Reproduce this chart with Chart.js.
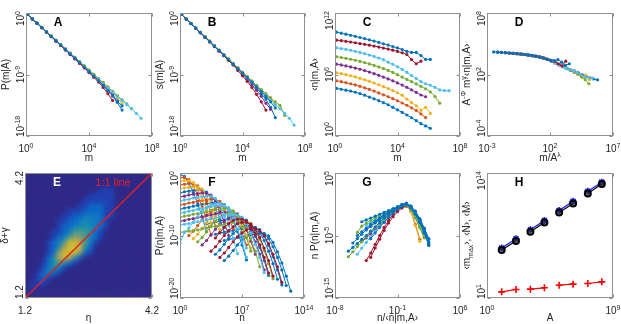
<!DOCTYPE html>
<html><head><meta charset="utf-8">
<script src="https://cdn.jsdelivr.net/npm/chart.js@4.4.1/dist/chart.umd.min.js"></script>
<style>
html,body{margin:0;padding:0;background:#fff;overflow:hidden;width:621px;height:324px;position:relative}
canvas{position:absolute}
</style>
</head><body>
<canvas id="cA"></canvas><canvas id="cB"></canvas><canvas id="cC"></canvas><canvas id="cD"></canvas>
<canvas id="cE"></canvas><canvas id="cF"></canvas><canvas id="cG"></canvas><canvas id="cH"></canvas>
<script>
// ---------------- DATA (log10 values) ----------------
const seriesColors = ['rgb(0,114,189)','rgb(217,83,25)','rgb(237,177,32)','rgb(126,47,142)','rgb(119,172,48)','rgb(77,190,238)','rgb(162,20,47)','rgb(0,114,189)'];
const logM = [0.1,0.4,0.7,1.0,1.3,1.6,1.9,2.2,2.5,2.8,3.1,3.4,3.7,4.0,4.3,4.6,4.9,5.2,5.5,5.8,6.1,6.4,6.7,7.0,7.3];

// Panel A: log10 P(m|A)
const logP_A = [
 [-0.2,-0.86,-1.5,-2.14,-2.78,-3.42,-4.06,-4.7,-5.35,-6.0,-6.63,-7.28,-7.92,-8.57,-9.23,-9.9,-10.6,-11.3,-12.1,-13.1,-14.2],
 [-0.2,-0.84,-1.47,-2.1,-2.74,-3.37,-4.0,-4.62,-5.25,-5.88,-6.5,-7.12,-7.74,-8.36,-8.98,-9.6,-10.2,-10.85,-11.5,-12.2],
 [-0.21,-0.85,-1.48,-2.11,-2.75,-3.38,-4.01,-4.64,-5.27,-5.9,-6.53,-7.16,-7.78,-8.4,-9.02,-9.65,-10.3,-10.95,-11.6,-12.4,-13.3],
 [-0.22,-0.86,-1.5,-2.14,-2.78,-3.42,-4.06,-4.7,-5.34,-5.98,-6.62,-7.26,-7.9,-8.55,-9.2,-9.86,-10.55,-11.25,-12.0,-12.9],
 [-0.2,-0.84,-1.47,-2.1,-2.73,-3.36,-3.99,-4.62,-5.25,-5.88,-6.5,-7.12,-7.74,-8.36,-8.98,-9.6,-10.22,-10.84,-11.46,-12.08,-12.7,-13.3,-14.0],
 [-0.21,-0.85,-1.48,-2.12,-2.76,-3.39,-4.03,-4.66,-5.3,-5.94,-6.57,-7.21,-7.84,-8.48,-9.12,-9.75,-10.38,-11.0,-11.6,-12.2,-12.8,-13.4,-14.0,-14.7,-15.4],
 [-0.22,-0.87,-1.52,-2.17,-2.82,-3.47,-4.12,-4.77,-5.42,-6.07,-6.72,-7.38,-8.05,-8.72,-9.4,-10.1,-10.9,-11.8,-12.8],
 [-0.21,-0.85,-1.49,-2.13,-2.77,-3.41,-4.05,-4.69,-5.33,-5.97,-6.61,-7.26,-7.91,-8.56,-9.22,-9.9,-10.6,-11.35,-12.15,-12.9,-13.6]
];
// Panel B: log10 s(m|A)
const logS_B = [
 [-0.22,-0.88,-1.54,-2.2,-2.86,-3.52,-4.18,-4.84,-5.5,-6.16,-6.82,-7.48,-8.14,-8.8,-9.5,-10.2,-11.0,-11.8,-12.6,-13.8,-15.3],
 [-0.22,-0.87,-1.52,-2.17,-2.82,-3.47,-4.12,-4.77,-5.42,-6.07,-6.72,-7.37,-8.02,-8.67,-9.32,-9.97,-10.62,-11.3,-12.0,-12.8],
 [-0.22,-0.87,-1.52,-2.17,-2.82,-3.47,-4.12,-4.77,-5.42,-6.07,-6.72,-7.37,-8.02,-8.67,-9.32,-9.97,-10.62,-11.3,-12.0,-12.4,-13.5],
 [-0.22,-0.88,-1.54,-2.2,-2.86,-3.52,-4.18,-4.84,-5.5,-6.16,-6.82,-7.48,-8.14,-8.9,-9.7,-10.5,-11.3,-12.2,-13.2,-14.1],
 [-0.22,-0.87,-1.52,-2.17,-2.82,-3.47,-4.12,-4.77,-5.42,-6.07,-6.72,-7.37,-8.02,-8.67,-9.32,-9.97,-10.6,-11.2,-11.8,-12.4,-13.0,-13.5,-15.0],
 [-0.22,-0.88,-1.54,-2.2,-2.86,-3.52,-4.18,-4.84,-5.5,-6.16,-6.82,-7.48,-8.14,-8.8,-9.46,-10.12,-10.78,-11.44,-12.1,-12.76,-13.4,-14.0,-14.7,-15.4,-16.4],
 [-0.22,-0.89,-1.56,-2.23,-2.9,-3.57,-4.24,-4.91,-5.58,-6.25,-6.92,-7.6,-8.4,-9.2,-10.0,-10.9,-11.9,-13.0,-14.2],
 [-0.22,-0.88,-1.54,-2.2,-2.86,-3.52,-4.18,-4.84,-5.5,-6.16,-6.82,-7.48,-8.14,-8.8,-9.46,-10.12,-10.8,-11.5,-12.25,-13.0,-13.9]
];
// Panel C: log10 <n|m,A>
const logN_C = [
 [4.64,4.56,4.47,4.38,4.27,4.14,3.98,3.8,3.63,3.45,3.25,3.05,2.8,2.55,2.3,2.05,1.78,1.5,1.2,0.98,0.75],
 [5.39,5.3,5.2,5.1,4.98,4.85,4.7,4.55,4.38,4.2,4.02,3.83,3.64,3.44,3.22,3.0,2.75,2.5,2.15,1.8],
 [6.17,6.08,5.98,5.88,5.76,5.63,5.48,5.33,5.17,5.0,4.82,4.63,4.43,4.22,3.98,3.6,3.25,2.95,2.5,2.8,2.2],
 [7.01,6.93,6.84,6.74,6.63,6.51,6.38,6.24,6.08,5.92,5.75,5.57,5.38,5.18,4.97,4.75,4.5,4.25,4.0,3.83],
 [7.73,7.66,7.58,7.49,7.39,7.28,7.16,7.03,6.89,6.74,6.58,6.4,6.2,5.98,5.75,5.52,5.3,5.08,4.85,4.6,4.3,3.85,3.2],
 [8.6,8.53,8.45,8.36,8.26,8.15,8.03,7.9,7.76,7.61,7.45,7.2,7.0,6.75,6.5,6.2,5.9,5.6,5.3,5.1,4.95,4.75,4.5,4.43,4.42],
 [9.35,9.3,9.24,9.17,9.1,9.02,8.94,8.86,8.77,8.68,8.58,8.48,8.37,8.25,8.12,7.95,7.45,7.05,7.3],
 [10.13,10.03,9.93,9.83,9.72,9.61,9.5,9.38,9.26,9.13,9.0,8.87,8.73,8.59,8.44,8.25,8.15,8.15,7.85,7.47,7.47]
];
// Panel D: lambda*log10(A) shift of each series and log10 of the rescaled <n|m,A>
const lambdaLogA_D = [0.33,0.65,0.97,1.28,1.61,1.93,2.25,2.57];
const logY_D = [
 [3.98,3.94,3.88,3.83,3.76,3.67,3.57,3.46,3.3,3.12,2.94,2.76,2.58,2.4,2.22,2.06,1.92,1.8,1.68,1.56,1.48],
 [4.02,3.99,3.94,3.89,3.83,3.76,3.68,3.58,3.47,3.31,3.13,2.95,2.77,2.59,2.41,2.23,2.07,1.93,1.81,1.65],
 [4.07,4.03,3.99,3.95,3.89,3.83,3.77,3.68,3.59,3.47,3.32,3.14,2.96,2.78,2.6,2.42,2.24,2.0,1.7,1.95,1.5],
 [4.1,4.07,4.03,3.99,3.95,3.9,3.84,3.77,3.69,3.59,3.47,3.32,3.15,2.97,2.79,2.61,2.45,2.35,2.2,2.0],
 [4.13,4.1,4.07,4.03,3.99,3.95,3.9,3.84,3.78,3.7,3.6,3.48,3.33,3.16,2.98,2.8,2.62,2.44,2.26,2.05,1.8,1.5,1.1],
 [4.16,4.13,4.1,4.07,4.04,4.0,3.95,3.9,3.85,3.78,3.7,3.61,3.49,3.34,3.12,2.92,2.75,2.6,2.48,2.35,2.2,2.0,1.8,1.7,1.65],
 [4.18,4.16,4.13,4.1,4.07,4.04,4.0,3.95,3.9,3.85,3.79,3.71,3.62,3.5,3.38,3.3,3.05,2.85,3.3],
 [4.2,4.18,4.16,4.13,4.1,4.07,4.04,4.0,3.96,3.91,3.86,3.79,3.72,3.63,3.51,3.39,3.35,3.45,3.2,2.9,3.05]
];
// Panel E: density of (eta, delta+gamma), 24x24 cells, top row first, levels 0-9
const etaMin = 1.2, etaMax = 4.2, dgMin = 1.2, dgMax = 4.2;
const densityRows = [
 "000000000000000000000000",
 "000000000000000000000000",
 "000000000000000000000000",
 "000000000000001110000000",
 "000000000000111110000000",
 "000000000001111110000000",
 "000000000011333110000000",
 "000000001113333110000000",
 "000000011334443110000000",
 "000000113345443100000000",
 "000000133455543100000000",
 "000001134666531000000000",
 "000001346776431000000000",
 "000013469986410000000000",
 "000013589995300000000000",
 "000013799973100000000000",
 "000035898520000000000000",
 "000135653100000000000000",
 "000145410000000000000000",
 "001343100000000000000000",
 "001310000000000000000000",
 "011100000000000000000000",
 "010000000000000000000000",
 "000000000000000000000000"
];
const densityColors = ['rgb(50,44,138)','rgb(33,72,190)','rgb(18,98,220)','rgb(8,122,218)','rgb(12,147,206)','rgb(22,170,185)','rgb(80,187,145)','rgb(160,190,100)','rgb(232,188,62)','rgb(250,225,30)'];
// Panel F: curves log10 P(n|m,A), first log10 n and step 0.5
const F_color = [0,1,2,1,2,0,3,5,1,0,5,4,3,5,4,0,0,0,0,0,6,6,6,3,4,2,1,5];
const F_logn0 = [0,0,0,0,0,0,0,0,0,0,0,0,0,0,0,3,4,5,5,4,4.5,4,3.5,2.5,2,1.5,1,0];
const F_step = 0.5;
const F_logP = [
 [-0.25,-0.55,-1.6,-3.1,-4.9,-7.0,-9.4],
 [-0.7,-0.75,-1.05,-2.1,-3.6,-5.4,-7.5,-9.9],
 [-1.3,-1.2,-1.25,-1.55,-2.6,-4.1,-5.9,-8.0],
 [-1.9,-1.8,-1.7,-1.75,-2.05,-3.1,-4.6,-6.4,-8.5],
 [-2.5,-2.4,-2.3,-2.2,-2.25,-2.55,-3.6,-5.1,-6.9,-9.0],
 [-3.2,-3.0,-2.9,-2.8,-2.7,-2.75,-3.05,-4.1,-5.6,-7.4,-9.5],
 [-3.8,-3.7,-3.5,-3.4,-3.3,-3.2,-3.25,-3.55,-4.6,-6.1,-7.9,-10.0],
 [-4.5,-4.3,-4.2,-4.0,-3.9,-3.8,-3.7,-3.75,-4.05,-5.1,-6.6,-8.4,-10.5,-12.9],
 [-5.1,-5.0,-4.8,-4.7,-4.5,-4.4,-4.3,-4.2,-4.25,-4.55,-5.6,-7.1,-8.9],
 [-5.8,-5.6,-5.5,-5.3,-5.2,-5.0,-4.9,-4.8,-4.7,-4.75,-5.05,-6.1,-7.6,-9.4,-11.5,-13.9],
 [-6.4,-6.3,-6.1,-6.0,-5.8,-5.7,-5.5,-5.4,-5.3,-5.2,-5.25,-5.55,-6.6,-8.1,-9.9,-12.0],
 [-7.1,-6.9,-6.8,-6.6,-6.5,-6.3,-6.2,-6.0,-5.9,-5.8,-5.7,-5.75,-6.05,-7.1,-8.6,-10.4,-12.5],
 [-7.7,-7.6,-7.4,-7.3,-7.1,-7.0,-6.8,-6.7,-6.5,-6.4,-6.3,-6.2,-6.25,-6.55,-7.6,-9.1,-10.9,-13.0],
 [-8.3,-8.2,-8.1,-7.9,-7.8,-7.6,-7.5,-7.3,-7.2,-7.0,-6.9,-6.8,-6.7,-6.75,-7.05,-8.1,-9.6,-11.4,-13.5,-15.9],
 [-9.5,-9.4,-9.3,-9.2,-9.1,-8.9,-8.8,-8.6,-8.5,-8.3,-8.2,-8.0,-7.9,-7.8,-7.7,-7.75,-8.05,-9.1,-10.6,-12.4,-14.5,-16.9],
 [-8.1,-8.0,-7.8,-7.7,-7.5,-7.4,-7.3,-7.2,-7.25,-7.55,-8.6,-10.1,-11.9,-14.0,-16.4],
 [-9.8,-9.6,-9.5,-9.3,-9.2,-9.0,-8.9,-8.8,-8.7,-8.75,-9.05,-10.1,-11.6,-13.4,-15.5,-17.9],
 [-10.8,-10.6,-10.5,-10.3,-10.2,-10.0,-9.9,-9.8,-9.7,-9.75,-10.05,-11.1,-12.6,-14.4,-16.5,-18.9],
 [-14.0,-13.3,-12.4,-11.5,-10.7,-10.1,-9.6,-9.4,-9.4,-9.7,-10.5,-11.8,-13.5,-15.5,-18.0],
 [-13.0,-12.3,-11.4,-10.5,-9.7,-9.1,-8.6,-8.4,-8.4,-8.7,-9.5,-10.8,-12.5,-14.5,-17.0],
 [-13.5,-12.8,-11.9,-11.0,-10.2,-9.6,-9.1,-8.9,-8.9,-9.2,-10.0,-11.3,-13.0,-15.0,-17.5],
 [-10.4,-9.5,-8.7,-8.1,-7.6,-7.4,-7.4,-7.7,-8.5,-9.8,-11.5,-13.5,-16.0],
 [-12.5,-11.8,-10.9,-10.0,-9.2,-8.6,-8.1,-7.9,-7.9,-8.2,-9.0,-10.3,-12.0,-14.0,-16.5],
 [-11.5,-10.8,-9.9,-9.0,-8.2,-7.6,-7.1,-6.9,-6.9,-7.2,-8.0,-9.3,-11.0,-13.0,-15.5],
 [-11.0,-10.3,-9.4,-8.5,-7.7,-7.1,-6.6,-6.4,-6.4,-6.7,-7.5,-8.8,-10.5,-12.5,-15.0],
 [-10.5,-9.8,-8.9,-8.0,-7.2,-6.6,-6.1,-5.9,-5.9,-6.2,-7.0,-8.3,-10.0,-12.0],
 [-10.0,-9.3,-8.4,-7.5,-6.7,-6.1,-5.6,-5.4,-5.4,-5.7,-6.5,-7.8,-9.5,-11.5],
 [-11.2,-9.5,-8.8,-7.9,-7.0,-6.2,-5.6,-5.1,-4.9,-4.9,-5.2,-6.0,-7.3,-9.0,-11.0,-13.5]
];
// Panel G: curves log10 nP(n|m,A) vs log10 n/<n|m,A>, first x and step 0.5
const G_color = [0,0,0,5,5,4,4,6,6,3,1,2,0,0,0];
const G_x0 = [-6.5,-5,-4.5,-5.5,-4.5,-6.5,-5.5,-4.5,-4,-5,-3,-3.5,-6,-5.5,-4];
const G_step = 0.5;
const G_logY = [
 [-7.5,-6.9,-6.3,-5.6,-5.0,-4.3,-3.6,-2.9,-2.2,-1.6,-1.0,-0.5,-0.1,0.0,-0.6,-1.6,-2.9,-4.5,-6.3],
 [-2.8,-2.5,-2.2,-1.9,-1.6,-1.3,-1.0,-0.7,-0.4,-0.1,0.1,-0.4,-1.3,-2.6,-4.2,-6.0],
 [-4.0,-3.5,-3.0,-2.5,-2.0,-1.5,-1.0,-0.6,-0.2,0.1,-0.3,-1.2,-2.4,-3.9,-5.6],
 [-8.0,-7.0,-6.1,-5.2,-4.3,-3.5,-2.7,-2.0,-1.3,-0.7,-0.2,0.0,-0.7,-1.8,-3.2,-4.8],
 [-3.3,-2.9,-2.5,-2.1,-1.7,-1.3,-0.9,-0.5,-0.2,0.0,-0.6,-1.6,-3.0],
 [-8.4,-7.6,-6.8,-6.0,-5.2,-4.4,-3.7,-3.0,-2.3,-1.7,-1.1,-0.6,-0.2,-0.1,-0.8,-2.0,-3.5,-5.2],
 [-4.5,-3.5,-3.0,-2.6,-2.2,-1.9,-1.5,-1.2,-0.9,-0.5,-0.2,-0.1,-0.9,-2.2,-3.8,-5.4],
 [-9.0,-7.8,-6.4,-5.0,-3.7,-2.6,-1.6,-0.9,-0.4,-0.2,-0.5,-1.3,-2.5,-4.0,-6.5],
 [-8.5,-7.0,-5.6,-4.2,-3.0,-2.0,-1.2,-0.6,-0.3,-0.5,-1.5,-2.8,-4.6],
 [-6.0,-5.4,-4.7,-4.0,-3.3,-2.6,-1.9,-1.3,-0.7,-0.3,-0.1,-0.8,-2.1,-3.6,-5.3],
 [-3.5,-2.8,-2.1,-1.4,-0.8,-0.3,-0.1,-1.1,-3.2,-5.6],
 [-4.0,-3.2,-2.5,-1.8,-1.2,-0.6,-0.2,-0.1,-1.2,-3.4,-5.9],
 [-6.2,-5.5,-4.8,-4.1,-3.5,-2.9,-2.3,-1.8,-1.3,-0.9,-0.5,-0.1,0.1,-0.4,-1.4,-2.7,-4.3,-6.2],
 [-5.0,-4.4,-3.8,-3.2,-2.7,-2.2,-1.7,-1.2,-0.8,-0.4,0.0,0.2,-0.3,-1.1,-2.3,-3.8,-5.5],
 [-5.5,-4.6,-3.7,-2.9,-2.1,-1.4,-0.8,-0.3,0.0,-0.5,-1.5,-2.9,-4.6,-6.6]
];
// Panel H
const logA_H = [1.05,2.07,3.1,4.1,5.15,6.15,7.2,8.2];
const logM_H = [6.2,7.15,8.1,9.05,10.1,11.05,12.1,13.05];
const logN_H = [5.98,6.92,7.89,8.86,9.9,10.84,11.88,12.85];
const logMmax_H = [1.64,1.89,1.92,2.06,2.33,2.44,2.51,2.68];

// ---------------- helpers ----------------
const FONT = '"Liberation Sans", Arial, Helvetica, sans-serif';
const TXT = '#262626';
function s(t, k) { return { t: t, k: k || 0 }; }
function p10(e) { return [s('10'), s(String(e), 1)]; }
function fontFor(g, size) { return (g.k ? Math.round(size * 0.72) : size) + 'px ' + FONT; }
function richWidth(ctx, segs, size) { let w = 0; for (const g of segs) { ctx.font = fontFor(g, size); w += ctx.measureText(g.t).width; } return w; }
function drawRich(ctx, segs, x, y, size, align, rot, color) {
  ctx.save(); ctx.translate(x, y); if (rot) ctx.rotate(rot);
  const w = richWidth(ctx, segs, size);
  let u = align === 'center' ? -w / 2 : (align === 'right' ? -w : 0);
  ctx.textAlign = 'left'; ctx.textBaseline = 'alphabetic'; ctx.fillStyle = color;
  for (const g of segs) {
    ctx.font = fontFor(g, size);
    const dy = g.k === 1 ? -size * 0.45 : (g.k === -1 ? size * 0.28 : 0);
    ctx.fillText(g.t, u, dy); u += ctx.measureText(g.t).width;
  }
  ctx.restore();
}
function makeFrame(p) {
  return { id: 'frame' + p.id,
  beforeDatasetsDraw(chart) {
    if (!p.bg) return;
    const a = chart.chartArea, ctx = chart.ctx;
    ctx.save(); ctx.fillStyle = p.bg; ctx.fillRect(a.left, a.top, a.right - a.left, a.bottom - a.top); ctx.restore();
  },
  beforeDatasetDraw(chart, args) {
    const d = chart.data.datasets[args.index];
    if (d.blurPx) { chart.ctx.save(); chart.ctx.filter = 'blur(' + d.blurPx + 'px)'; }
  },
  afterDatasetDraw(chart, args) {
    const d = chart.data.datasets[args.index];
    if (d.blurPx) chart.ctx.restore();
  },
  afterDraw(chart) {
    const ctx = chart.ctx, a = chart.chartArea, xs = chart.scales.x, ys = chart.scales.y;
    ctx.save();
    ctx.strokeStyle = '#8f8f8f'; ctx.lineWidth = 1;
    const l = Math.round(a.left) + 0.5, t = Math.round(a.top) + 0.5, r = Math.round(a.right) - 0.5, b = Math.round(a.bottom) - 0.5;
    ctx.strokeRect(l, t, r - l, b - t);
    ctx.beginPath();
    for (const tk of p.xTicks) { const px = Math.round(xs.getPixelForValue(tk.v)) + 0.5; ctx.moveTo(px, b); ctx.lineTo(px, b - 3); ctx.moveTo(px, t); ctx.lineTo(px, t + 3); }
    for (const tk of p.yTicks) { const py = Math.round(ys.getPixelForValue(tk.v)) + 0.5; ctx.moveTo(l, py); ctx.lineTo(l + 3, py); ctx.moveTo(r, py); ctx.lineTo(r - 3, py); }
    ctx.stroke();
    for (const tk of p.xTicks) drawRich(ctx, tk.lab, xs.getPixelForValue(tk.v), a.bottom + 16, 10, 'center', 0, TXT);
    for (const tk of p.yTicks) {
      const w = richWidth(ctx, tk.lab, 10); let c = ys.getPixelForValue(tk.v);
      if (c - w / 2 < a.top - 2) c = a.top - 2 + w / 2;
      if (c + w / 2 > a.bottom + 1) c = a.bottom + 1 - w / 2;
      drawRich(ctx, tk.lab, a.left - 2, c, 10, 'center', -Math.PI / 2, TXT);
    }
    drawRich(ctx, p.xTitle, (a.left + a.right) / 2, a.bottom + p.xTitleDy, 10, 'center', 0, TXT);
    drawRich(ctx, p.yTitle, a.left - 17, (a.top + a.bottom) / 2, 10, 'center', -Math.PI / 2, TXT);
    ctx.font = 'bold 12px ' + FONT; ctx.fillStyle = p.letterColor || '#000'; ctx.textAlign = 'center'; ctx.textBaseline = 'middle';
    ctx.fillText(p.letter, a.left + 32, a.top + 10);
    if (p.extra) p.extra(ctx, a);
    ctx.restore();
  }};
}
function lineDS(xs, ys, color, extra) {
  const d = [];
  for (let i = 0; i < ys.length; i++) d.push({ x: xs[i], y: ys[i] });
  return Object.assign({ data: d, showLine: true, borderColor: color, backgroundColor: color, borderWidth: 1,
    pointRadius: 1.6, pointBorderWidth: 0, pointBackgroundColor: color, pointBorderColor: color }, extra || {});
}
const pw = v => Math.pow(10, v);
function logTicks(exps) { return exps.map(e => ({ v: pw(e), lab: p10(e) })); }

function build(p) {
  const cv = document.getElementById(p.id);
  const padL = 36, padT = 12, padR = 12, padB = 40;
  cv.width = p.W + padL + padR; cv.height = p.H + padT + padB;
  cv.style.left = (p.L - padL) + 'px'; cv.style.top = (p.T - padT) + 'px';
  const ds = p.datasets.slice().reverse(); // first listed is drawn first (bottom)
  new Chart(cv, {
    type: 'scatter',
    data: { datasets: ds },
    options: {
      responsive: false, animation: false, devicePixelRatio: 1, events: [],
      layout: { padding: { left: padL, top: padT, right: padR, bottom: padB } },
      plugins: { legend: { display: false }, tooltip: { enabled: false } },
      elements: { line: { tension: 0 } },
      scales: {
        x: { type: p.xType, min: p.xMin, max: p.xMax, display: false },
        y: { type: p.yType, min: p.yMin, max: p.yMax, display: false }
      }
    },
    plugins: [makeFrame(p)]
  });
}

// ---------------- panels ----------------
function topSeries(vals, shift) {
  return vals.map((ys, k) => lineDS(logM.map(v => pw(v - (shift ? shift[k] : 0))), ys.map(pw), seriesColors[k]));
}
build({ id: 'cA', L: 26, T: 13, W: 126, H: 123, xType: 'logarithmic', xMin: 1, xMax: 1e8, yType: 'logarithmic', yMin: 1e-18, yMax: 1,
  xTicks: logTicks([0, 4, 8]), yTicks: logTicks([-18, -9, 0]), xTitle: [s('m')], xTitleDy: 25, yTitle: [s('P(m|A)')], letter: 'A',
  datasets: topSeries(logP_A) });
build({ id: 'cB', L: 180, T: 13, W: 125, H: 123, xType: 'logarithmic', xMin: 1, xMax: 1e8, yType: 'logarithmic', yMin: 1e-18, yMax: 1,
  xTicks: logTicks([0, 4, 8]), yTicks: logTicks([-18, -9, 0]), xTitle: [s('m')], xTitleDy: 25, yTitle: [s('s(m|A)')], letter: 'B',
  datasets: topSeries(logS_B) });
build({ id: 'cC', L: 335, T: 13, W: 125, H: 123, xType: 'logarithmic', xMin: 1, xMax: 1e8, yType: 'logarithmic', yMin: 1, yMax: 1e12,
  xTicks: logTicks([0, 4, 8]), yTicks: logTicks([0, 6, 12]), xTitle: [s('m')], xTitleDy: 25, yTitle: [s('‹n|m,A›')], letter: 'C',
  datasets: topSeries(logN_C) });
build({ id: 'cD', L: 487, T: 13, W: 126, H: 123, xType: 'logarithmic', xMin: 1e-3, xMax: 1e7, yType: 'logarithmic', yMin: 1e-4, yMax: 1e8,
  xTicks: logTicks([-3, 2, 7]), yTicks: logTicks([-4, 2, 8]), xTitle: [s('m/A'), s('λ', 1)], xTitleDy: 25,
  yTitle: [s('A'), s('-Φ', 1), s(' m'), s('γ', 1), s('‹n|m,A›')], letter: 'D',
  datasets: topSeries(logY_D, lambdaLogA_D) });

// E heatmap
(function () {
  const nR = densityRows.length, nC = densityRows[0].length;
  const dx = (etaMax - etaMin) / nC, dy = (dgMax - dgMin) / nR;
  const pts = [], cols = [];
  for (let r = 0; r < nR; r++) for (let c = 0; c < nC; c++) {
    pts.push({ x: etaMin + (c + 0.5) * dx, y: dgMax - (r + 0.5) * dy });
    cols.push(densityColors[+densityRows[r][c]]);
  }
  const heat = { data: pts, showLine: false, pointStyle: 'rect', pointRadius: 6.0 / Math.SQRT2, pointBorderWidth: 0,
    pointBackgroundColor: cols, backgroundColor: cols, borderColor: 'rgba(0,0,0,0)', blurPx: 2.4 };
  const diag = { data: [{ x: etaMin, y: dgMin }, { x: etaMax, y: dgMax }], showLine: true, borderColor: 'rgb(228,30,38)', borderWidth: 1.4, pointRadius: 0 };
  build({ id: 'cE', L: 25, T: 173, W: 127, H: 125, xType: 'linear', xMin: etaMin, xMax: etaMax, yType: 'linear', yMin: dgMin, yMax: dgMax,
    bg: densityColors[0],
    xTicks: [{ v: 1.2, lab: [s('1.2')] }, { v: 4.2, lab: [s('4.2')] }], yTicks: [{ v: 1.2, lab: [s('1.2')] }, { v: 4.2, lab: [s('4.2')] }],
    xTitle: [s('η')], xTitleDy: 23, yTitle: [s('δ+γ')], letter: 'E', letterColor: '#fff',
    extra: (ctx, a) => { ctx.font = '11px ' + FONT; ctx.fillStyle = 'rgb(225,35,45)'; ctx.textAlign = 'center'; ctx.textBaseline = 'middle'; ctx.fillText('1:1 line', a.left + 88, a.top + 10); },
    datasets: [heat, diag] });
})();

// F
(function () {
  const idx = F_logP.map((_, k) => k).sort((a, b) => F_color[a] - F_color[b] || a - b);
  const ds = idx.map(k => lineDS(F_logP[k].map((_, i) => pw(F_logn0[k] + i * F_step)), F_logP[k].map(pw), seriesColors[F_color[k]]));
  build({ id: 'cF', L: 180, T: 173, W: 124, H: 125, xType: 'logarithmic', xMin: 1, xMax: 1e14, yType: 'logarithmic', yMin: 1e-20, yMax: 1,
    xTicks: logTicks([0, 7, 14]), yTicks: logTicks([-20, -10, 0]), xTitle: [s('n')], xTitleDy: 23, yTitle: [s('P(n|m,A)')], letter: 'F',
    datasets: ds });
})();
// G
(function () {
  const rank = { 1: 0, 2: 1, 3: 2, 6: 3, 5: 4, 4: 5, 0: 6 };
  const idx = G_logY.map((_, k) => k).sort((a, b) => rank[G_color[a]] - rank[G_color[b]] || a - b);
  const ds = idx.map(k => lineDS(G_logY[k].map((_, i) => pw(G_x0[k] + i * G_step)), G_logY[k].map(pw), seriesColors[G_color[k]]));
  build({ id: 'cG', L: 335, T: 173, W: 125, H: 125, xType: 'logarithmic', xMin: 1e-8, xMax: 1e6, yType: 'logarithmic', yMin: 1e-15, yMax: 1e5,
    xTicks: logTicks([-8, -1, 6]), yTicks: logTicks([-15, -5, 5]), xTitle: [s('n/‹n|m,A›')], xTitleDy: 23, yTitle: [s('n P(n|m,A)')], letter: 'G',
    datasets: ds });
})();
// H
(function () {
  const ds = [];
  const styles = [
    { vals: logM_H, color: 'rgb(20,20,240)', ps: 'star', r: 3.5, bw: 1.6, bg: 'rgb(20,20,240)' },
    { vals: logN_H, color: '#000', ps: 'circle', r: 3, bw: 2, bg: 'rgba(60,60,60,0.6)' },
    { vals: logMmax_H, color: 'rgb(250,0,0)', ps: 'cross', r: 3.5, bw: 1.6, bg: 'rgb(250,0,0)' }
  ];
  for (const st of styles) {
    for (let i = 0; i < logA_H.length; i += 2) {
      ds.push(lineDS([pw(logA_H[i]), pw(logA_H[i + 1])], [pw(st.vals[i]), pw(st.vals[i + 1])], st.color,
        { borderWidth: 1.2, pointStyle: st.ps, pointRadius: st.r, pointBorderWidth: st.bw, pointBackgroundColor: st.bg, pointBorderColor: st.color }));
    }
  }
  build({ id: 'cH', L: 487, T: 173, W: 126, H: 125, xType: 'logarithmic', xMin: 1, xMax: 1e9, yType: 'logarithmic', yMin: 10, yMax: 1e14,
    xTicks: logTicks([0, 9]), yTicks: logTicks([1, 14]), xTitle: [s('A')], xTitleDy: 23,
    yTitle: [s('‹m'), s('max', -1), s('›, ‹N›, ‹M›')], letter: 'H', datasets: ds });
})();
</script>
</body></html>
